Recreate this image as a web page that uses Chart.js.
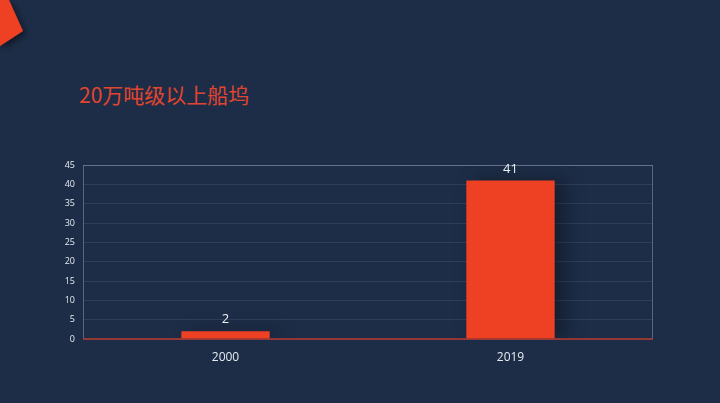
<!DOCTYPE html>
<html><head><meta charset="utf-8">
<script src="https://cdn.jsdelivr.net/npm/chart.js@4/dist/chart.umd.min.js"></script>
<style>
html,body{margin:0;padding:0;width:720px;height:403px;overflow:hidden;background:#1d2d47;}
#wrap{position:absolute;left:0;top:0;width:720px;height:403px;}
#title{position:absolute;left:79px;top:80px;font-family:"Noto Sans CJK SC","Noto Sans",sans-serif;font-size:21px;color:#e2452f;white-space:nowrap;line-height:28px;}
</style></head>
<body>
<svg width="40" height="60" style="position:absolute;left:0;top:0">
<defs><filter id="sh" x="-50%" y="-50%" width="200%" height="200%"><feDropShadow dx="3" dy="3" stdDeviation="3" flood-color="#000" flood-opacity="0.5"/></filter></defs>
<polygon points="0,0 9,0 23,31 0,46" fill="#ee4123" filter="url(#sh)"/>
</svg>
<div id="title">20万吨级以上船坞</div>
<div id="wrap"><canvas id="c" width="720" height="403"></canvas></div>
<script>
const categories = ["2000", "2019"];
const values = [2, 41];
const yTicks = [0, 5, 10, 15, 20, 25, 30, 35, 40, 45];

const framePlugin = {
  id: 'frame',
  beforeDatasetsDraw(chart) {
    const {ctx, chartArea: a} = chart;
    ctx.save();
    ctx.strokeStyle = 'rgba(200,210,225,0.35)';
    ctx.lineWidth = 1;
    ctx.beginPath();
    ctx.moveTo(a.left + 0.5, a.bottom);
    ctx.lineTo(a.left + 0.5, a.top + 0.5);
    ctx.lineTo(a.right - 0.5, a.top + 0.5);
    ctx.lineTo(a.right - 0.5, a.bottom);
    ctx.stroke();
    ctx.restore();
  },
  afterDatasetsDraw(chart) {
    const {ctx, chartArea: a} = chart;
    ctx.save();
    ctx.strokeStyle = '#b8392c';
    ctx.lineWidth = 1.5;
    ctx.beginPath();
    ctx.moveTo(a.left, a.bottom);
    ctx.lineTo(a.right, a.bottom);
    ctx.stroke();
    const meta = chart.getDatasetMeta(0);
    ctx.fillStyle = '#eef2f7';
    ctx.font = '13px "Open Sans", "Noto Sans", sans-serif';
    ctx.textAlign = 'center';
    ctx.textBaseline = 'bottom';
    meta.data.forEach((bar, i) => {
      ctx.fillText(String(values[i]), bar.x, bar.y - 5);
    });
    ctx.restore();
  }
};

const shadowPlugin = {
  id: 'shadow',
  beforeDatasetDraw(chart) {
    const ctx = chart.ctx;
    ctx.save();
    ctx.shadowColor = 'rgba(0,0,0,0.35)';
    ctx.shadowBlur = 18;
    ctx.shadowOffsetX = 10;
    ctx.shadowOffsetY = 0;
  },
  afterDatasetDraw(chart) {
    chart.ctx.restore();
  }
};

new Chart(document.getElementById('c'), {
  type: 'bar',
  data: {
    labels: categories,
    datasets: [{
      data: values,
      backgroundColor: '#ee4123',
      borderWidth: 0,
      categoryPercentage: 0.31,
      barPercentage: 1.0
    }]
  },
  options: {
    responsive: false,
    animation: false,
    events: [],
    layout: { padding: { left: 0, right: 67, top: 165, bottom: 0 } },
    plugins: { legend: { display: false }, tooltip: { enabled: false } },
    scales: {
      x: {
        grid: { display: false },
        border: { display: false },
        ticks: { color: '#e6ebf2', font: { family: '"Open Sans", "Noto Sans", sans-serif', size: 12 }, padding: 3 },
        afterFit(s) { s.height = 64; }
      },
      y: {
        min: 0, max: 45,
        afterBuildTicks(s) { s.ticks = yTicks.map(v => ({ value: v })); },
        grid: { color: 'rgba(140,160,190,0.16)', drawTicks: false, lineWidth: 1 },
        border: { display: false },
        ticks: { color: '#e6ebf2', font: { family: '"Open Sans", "Noto Sans", sans-serif', size: 9 }, padding: 8 },
        afterFit(s) { s.width = 83; }
      }
    }
  },
  plugins: [shadowPlugin, framePlugin]
});
</script>
</body></html>
